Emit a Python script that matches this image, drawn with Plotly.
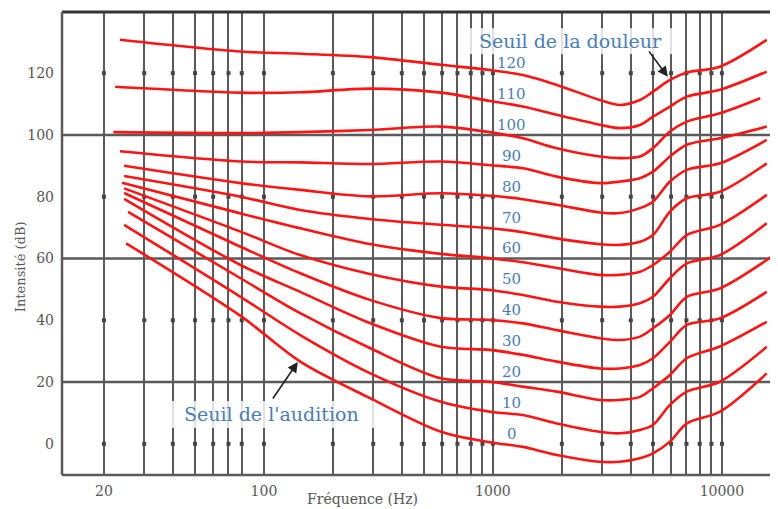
import math
import plotly.graph_objects as go

# ---------------- data ----------------
phon_levels = [120, 110, 100, 90, 80, 70, 60, 50, 40, 30, 20, 10, 0]
start_hz = [23.5, 22.4, 22.0, 23.5, 24.5, 24.5, 24.0, 24.5, 24.5, 24.5, 25.5, 24.5, 25.0]
inner_hz = [79, 144, 290, 593, 970, 1352, 1901, 2931, 3589, 4385, 5000, 5930, 7030, 9793]
end_hz = [15700, 15700, 14700, 15700, 15700, 15700, 15700, 15700, 16500, 15700, 15700, 15700, 15700]

db_120 = [130.8, 127.0, 126.3, 125.2, 122.7, 121.0, 119.4, 116.2, 111.3, 109.7, 111.3, 114.0, 117.8, 120.2, 122.1, 130.8]
db_110 = [115.6, 113.7, 113.8, 115.0, 113.7, 111.0, 109.2, 106.5, 103.3, 102.2, 103.2, 105.9, 109.2, 112.4, 114.6, 120.5]
db_100 = [100.9, 100.6, 100.9, 101.6, 102.7, 100.9, 98.9, 95.7, 93.0, 92.5, 93.0, 95.7, 101.1, 104.3, 107.0, 111.9]
db_90 = [94.7, 91.4, 91.1, 90.6, 91.4, 90.2, 89.2, 86.5, 84.4, 84.9, 86.0, 88.1, 93.0, 96.8, 98.9, 102.7]
db_80 = [90.0, 84.4, 82.2, 80.1, 81.1, 80.3, 79.2, 77.4, 74.9, 74.7, 76.3, 78.4, 84.9, 88.7, 90.8, 98.4]
db_70 = [86.7, 80.0, 75.7, 72.8, 70.9, 69.8, 68.5, 66.5, 64.6, 64.4, 65.4, 67.6, 75.2, 79.5, 81.6, 90.8]
db_60 = [84.5, 74.6, 69.8, 64.7, 61.5, 60.1, 58.8, 56.9, 54.7, 54.7, 55.7, 57.9, 62.2, 67.6, 70.9, 80.6]
db_50 = [82.7, 68.7, 61.1, 55.0, 50.9, 49.8, 48.2, 46.0, 44.4, 44.4, 45.5, 47.6, 53.6, 58.4, 61.1, 71.4]
db_40 = [81.2, 63.8, 55.2, 46.6, 40.7, 40.1, 39.0, 36.8, 34.2, 33.6, 34.7, 37.4, 41.7, 47.6, 50.3, 60.6]
db_30 = [79.3, 57.9, 49.2, 39.1, 31.4, 30.4, 28.8, 26.6, 24.4, 24.4, 25.5, 27.7, 33.0, 38.5, 40.6, 49.2]
db_20 = [75.1, 53.6, 42.3, 31.0, 21.2, 20.1, 18.5, 16.9, 14.2, 14.2, 15.2, 18.0, 22.3, 27.7, 31.5, 39.5]
db_10 = [70.9, 47.6, 35.2, 22.9, 13.6, 10.4, 9.3, 6.6, 3.9, 3.4, 4.5, 6.1, 12.6, 16.9, 20.1, 31.4]
db_0 = [64.9, 41.4, 26.6, 14.8, 3.9, 0.5, -1.0, -3.6, -5.8, -5.8, -4.7, -3.1, 0.7, 6.6, 10.4, 22.8]

curves_db = [db_120, db_110, db_100, db_90, db_80, db_70, db_60, db_50, db_40, db_30, db_20, db_10, db_0]

grid_hz = [20, 30, 40, 50, 60, 70, 80, 100, 200, 300, 400, 500, 600, 700, 800, 900,
           1000, 2000, 3000, 4000, 5000, 6000, 7000, 8000, 9000, 10000]
x_tick_labels = {20: "20", 100: "100", 1000: "1000", 10000: "10000"}
y_ticks = [0, 20, 40, 60, 80, 100, 120]
y_major_lines = [20, 60, 100]
y_dot_rows = [0, 40, 80, 120]

title_x = "Fréquence (Hz)"
title_y = "Intensité (dB)"
pain_text = "Seuil de la douleur"
hearing_text = "Seuil de l'audition"

# ---------------- figure ----------------
RED = "#ff1414"
BLUE = "#4a7db5"
GRAY = "#5a5a5a"
SERIF = "DejaVu Serif"

fig = go.Figure()

# dots on the secondary grid rows
dot_x, dot_y = [], []
for lvl in y_dot_rows:
    for f in grid_hz:
        dot_x.append(f)
        dot_y.append(lvl)
fig.add_trace(go.Scatter(x=dot_x, y=dot_y, mode="markers",
                         marker=dict(symbol="square", size=4, color="#454545"),
                         hoverinfo="skip", showlegend=False))

for lvl, s, e, dbs in zip(phon_levels, start_hz, end_hz, curves_db):
    xs = [s] + inner_hz + [e]
    fig.add_trace(go.Scatter(x=xs, y=dbs, mode="lines", name=f"{lvl} phon",
                             line=dict(color=RED, width=2.6, shape="spline", smoothing=0.9),
                             hoverinfo="skip", showlegend=False))

shapes = []
for lvl in y_major_lines:
    shapes.append(dict(type="line", xref="paper", x0=0, x1=1, yref="y", y0=lvl, y1=lvl,
                       line=dict(color=GRAY, width=2.5), layer="below"))
# frame: top, bottom, left
shapes.append(dict(type="line", xref="paper", yref="paper", x0=0, x1=1, y0=1, y1=1,
                   line=dict(color="#333333", width=3)))
shapes.append(dict(type="line", xref="paper", yref="paper", x0=0, x1=1, y0=0, y1=0,
                   line=dict(color=GRAY, width=2.5)))
shapes.append(dict(type="line", xref="paper", yref="paper", x0=0, x1=0, y0=0, y1=1,
                   line=dict(color=GRAY, width=2.5)))
# translucent boxes behind the two captions
shapes.append(dict(type="rect", xref="paper", yref="paper", x0=0.567, x1=0.852, y0=0.909, y1=0.965,
                   fillcolor="rgba(255,255,255,0.82)", line=dict(width=0), layer="above"))
shapes.append(dict(type="rect", xref="paper", yref="paper", x0=0.148, x1=0.436, y0=0.1015, y1=0.160,
                   fillcolor="rgba(255,255,255,0.82)", line=dict(width=0), layer="above"))

annotations = []
label_x = math.log10(1211)
for lvl in phon_levels:
    annotations.append(dict(x=label_x, y=lvl, xref="x", yref="y", text=str(lvl),
                            showarrow=False, yshift=10, xanchor="center", yanchor="middle",
                            font=dict(family=SERIF, size=15, color=BLUE)))

annotations.append(dict(x=0.7095, y=0.9374, xref="paper", yref="paper", text=pain_text,
                        showarrow=False, xanchor="center", yanchor="middle",
                        font=dict(family=SERIF, size=19, color=BLUE)))
annotations.append(dict(x=0.2919, y=0.1318, xref="paper", yref="paper", text=hearing_text,
                        showarrow=False, xanchor="center", yanchor="middle",
                        font=dict(family=SERIF, size=19, color=BLUE)))
# arrows
annotations.append(dict(x=3.764, y=118.8, xref="x", yref="y", text="", showarrow=True,
                        ax=-20, ay=-27, arrowhead=2, arrowsize=1.3, arrowwidth=1.6,
                        arrowcolor="#222222"))
annotations.append(dict(x=2.148, y=26.5, xref="x", yref="y", text="", showarrow=True,
                        ax=-26, ay=38, arrowhead=2, arrowsize=1.3, arrowwidth=1.6,
                        arrowcolor="#222222"))
# axis titles
annotations.append(dict(x=-0.0587, y=0.451, xref="paper", yref="paper", text=title_y,
                        textangle=-90, showarrow=False, xanchor="center", yanchor="middle",
                        font=dict(family=SERIF, size=13, color="#555555")))
annotations.append(dict(x=0.420, y=-0.052, xref="paper", yref="paper", text=title_x,
                        showarrow=False, xanchor="center", yanchor="middle",
                        font=dict(family=SERIF, size=14, color="#555555")))

# the page body has an 8px default margin, so the figure is 8px smaller
fig.update_layout(
    width=770, height=501,
    margin=dict(l=54, r=0, t=4, b=34),
    paper_bgcolor="white", plot_bgcolor="white",
    shapes=shapes, annotations=annotations,
    xaxis=dict(type="log", range=[1.118, 4.245],
               tickmode="array", tickvals=grid_hz,
               ticktext=[x_tick_labels.get(f, "") for f in grid_hz],
               showgrid=True, gridcolor=GRAY, gridwidth=2,
               zeroline=False, showline=False, ticks="",
               ticklabelstandoff=6,
               tickfont=dict(family=SERIF, size=14, color="#555555")),
    yaxis=dict(range=[-10.1, 139.8], tickmode="array", tickvals=y_ticks,
               showgrid=False, zeroline=False, showline=False, ticks="",
               ticklabelstandoff=7,
               tickfont=dict(family=SERIF, size=14, color="#555555")),
)

fig.write_html("out.html")
